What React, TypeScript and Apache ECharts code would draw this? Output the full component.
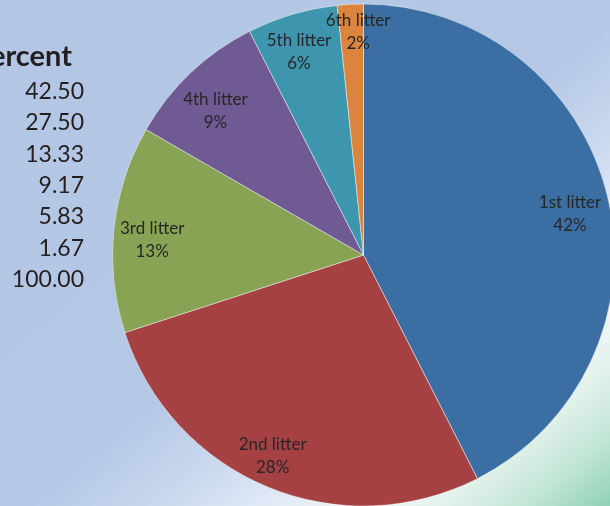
import React, { useEffect, useRef } from "react";
import * as echarts from "echarts";

const categories = ["1st litter", "2nd litter", "3rd litter", "4th litter", "5th litter", "6th litter"];
const percents = [42.5, 27.5, 13.33, 9.17, 5.83, 1.67];
const colors = ["#3B6FA4", "#A54143", "#89A354", "#6F5A93", "#3E96AE", "#DB843D"];
const tableHeader = "Percent";
// small label nudges (px) imitating the spreadsheet's "best fit" placement
const labelNudges: [number, number][] = [[-4, 9], [-8, 0], [4, 7], [1, 12], [-3, 4], [6, -8]];

function roundHalfEven(v: number): number {
  const f = Math.floor(v);
  const diff = v - f;
  if (Math.abs(diff - 0.5) < 1e-9) return f % 2 === 0 ? f : f + 1;
  return Math.round(v);
}

export default function App() {
  const ref = useRef<HTMLDivElement>(null);
  useEffect(() => {
    if (!ref.current) return;
    const chart = echarts.init(ref.current, null, { renderer: "svg" });
    const total = percents.reduce((a, b) => a + b, 0);
    const rows = [...percents.map((p) => p.toFixed(2)), total.toFixed(2)];
    const data = categories.map((c, i) => ({ name: c, value: percents[i], itemStyle: { color: colors[i] } }));
    const cx = 363.5;
    const cy = 255;
    const R = 251;
    chart.setOption({
      animation: false,
      graphic: [
        {
          type: "rect",
          z: -10,
          shape: { x: 0, y: 0, width: 610, height: 506 },
          style: {
            fill: new echarts.graphic.LinearGradient(0, 0, 1, 1, [
              { offset: 0, color: "#B3C6E4" },
              { offset: 0.52, color: "#B4C7E5" },
              { offset: 0.63, color: "#C9D8EE" },
              { offset: 0.71, color: "#DFE8F5" },
              { offset: 0.8, color: "#F1F6F6" },
              { offset: 0.86, color: "#E3F2EC" },
              { offset: 0.93, color: "#C2E5D6" },
              { offset: 1, color: "#8FD1B7" },
            ]),
          },
        },
        {
          type: "text",
          x: 72,
          y: 54,
          style: {
            text: tableHeader,
            fontFamily: "Lato",
            fontWeight: "bold",
            fontSize: 29,
            fill: "#231F20",
            align: "right",
            verticalAlign: "middle",
          },
        },
        ...rows.map((r, i) => ({
          type: "text",
          x: 84,
          y: 90 + i * 31.3,
          style: {
            text: r,
            fontFamily: "Lato",
            fontSize: 23,
            fill: "#231F20",
            align: "right",
            verticalAlign: "middle",
          },
        })),
      ],
      series: [
        {
          type: "pie",
          center: [cx, cy],
          radius: [0, R],
          startAngle: 90,
          clockwise: true,
          data,
          label: { show: false },
          labelLine: { show: false },
          itemStyle: { borderColor: "rgba(255,255,255,0.45)", borderWidth: 1 },
          emphasis: { disabled: true },
          silent: true,
        },
        {
          type: "pie",
          center: [cx, cy],
          radius: [176, R],
          startAngle: 90,
          clockwise: true,
          avoidLabelOverlap: false,
          minShowLabelAngle: 0,
          data: categories.map((c, i) => ({
            name: c,
            value: percents[i],
            label: { offset: labelNudges[i] },
          })),
          itemStyle: { color: "rgba(0,0,0,0)" },
          label: {
            show: true,
            position: "inside",
            formatter: (p: any) => `${p.name}\n${roundHalfEven((p.value / total) * 100)}%`,
            fontFamily: "Lato",
            fontSize: 17,
            lineHeight: 23,
            color: "#262626",
          },
          labelLayout: { hideOverlap: false },
          labelLine: { show: false },
          emphasis: { disabled: true },
          silent: true,
        },
      ],
    });
    return () => chart.dispose();
  }, []);
  return <div ref={ref} style={{ position: "fixed", left: 0, top: 0, width: 610, height: 506 }} />;
}
